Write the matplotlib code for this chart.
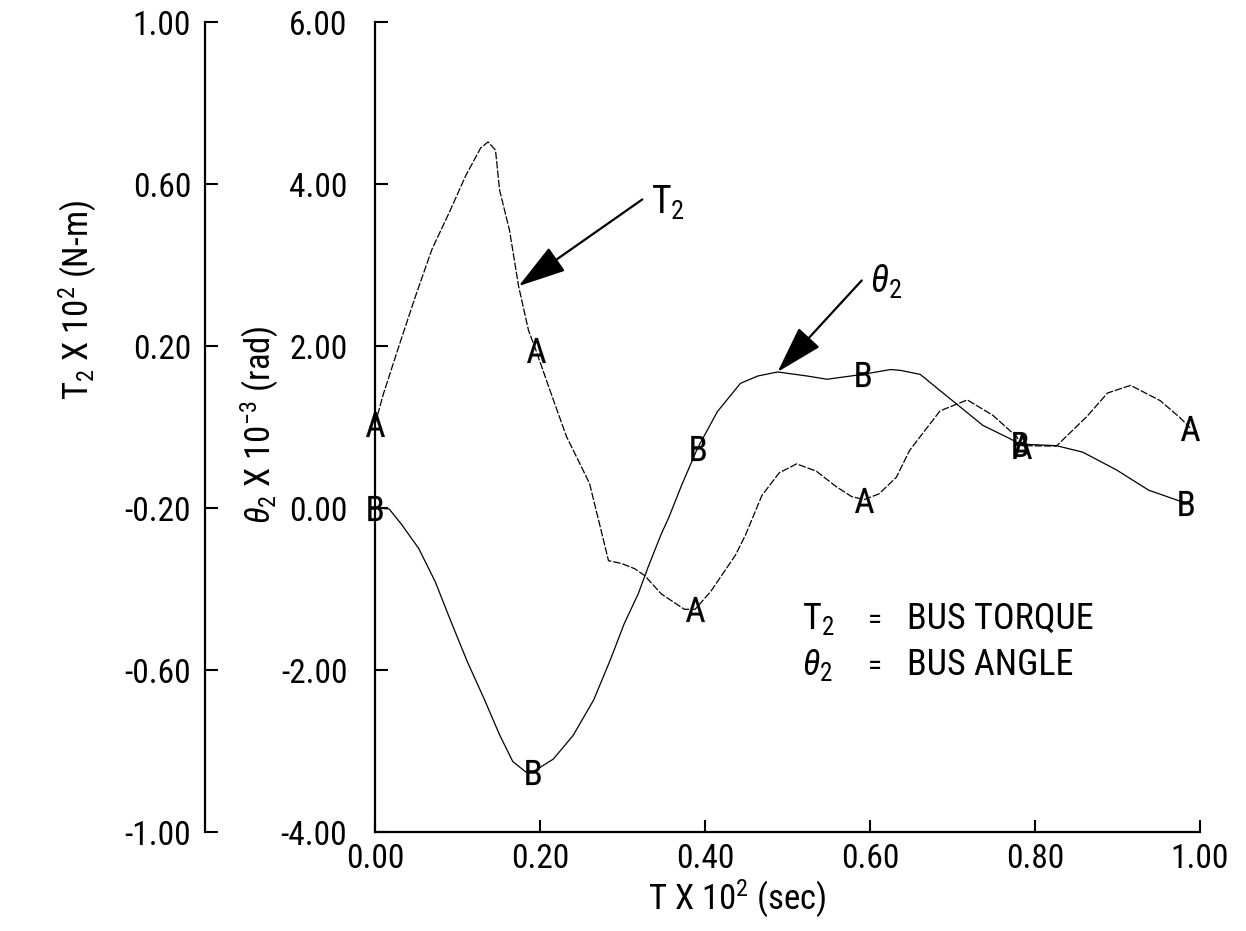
import matplotlib
matplotlib.use("Agg")
import matplotlib.pyplot as plt
from matplotlib.ticker import FormatStrFormatter

plt.rcParams['font.family'] = ['Roboto Condensed', 'Noto Sans', 'DejaVu Sans']
plt.rcParams['font.stretch'] = 'condensed'
plt.rcParams['mathtext.fontset'] = 'custom'
plt.rcParams['mathtext.rm'] = 'Roboto Condensed'
plt.rcParams['mathtext.it'] = 'Roboto Condensed:italic'
plt.rcParams['mathtext.sf'] = 'Roboto Condensed'
plt.rcParams['axes.unicode_minus'] = False

# bus angle theta_2 (x 10^-3 rad) vs time (x 10^2 sec)
theta_t = [0.0, 0.017, 0.032, 0.053, 0.073, 0.092, 0.112, 0.132, 0.151, 0.167,
           0.183, 0.191, 0.216, 0.240, 0.265, 0.285, 0.302, 0.319, 0.331, 0.347,
           0.356, 0.372, 0.391, 0.415, 0.443, 0.464, 0.488, 0.524, 0.548, 0.591,
           0.625, 0.637, 0.661, 0.685, 0.737, 0.769, 0.782, 0.826, 0.858, 0.899,
           0.938, 0.983]
theta_v = [0.00, -0.01, -0.20, -0.50, -0.91, -1.40, -1.90, -2.35, -2.80, -3.13,
           -3.26, -3.26, -3.10, -2.81, -2.37, -1.88, -1.43, -1.06, -0.73, -0.32,
           -0.12, 0.29, 0.74, 1.19, 1.54, 1.63, 1.68, 1.63, 1.59, 1.65,
           1.71, 1.70, 1.65, 1.45, 1.02, 0.86, 0.79, 0.77, 0.69, 0.47,
           0.22, 0.06]

# bus torque T_2 (x 10^2 N-m) vs time
t2_t = [0.0, 0.010, 0.028, 0.048, 0.069, 0.090, 0.110, 0.128, 0.137, 0.146,
        0.151, 0.163, 0.174, 0.186, 0.195, 0.212, 0.232, 0.260, 0.275, 0.283,
        0.299, 0.315, 0.327, 0.347, 0.375, 0.388, 0.407, 0.437, 0.449, 0.469,
        0.490, 0.511, 0.535, 0.559, 0.578, 0.593, 0.611, 0.632, 0.648, 0.660,
        0.685, 0.718, 0.749, 0.778, 0.784, 0.826, 0.863, 0.888, 0.916, 0.952,
        0.976, 0.988]
t2_v = [0.007, 0.081, 0.194, 0.317, 0.439, 0.530, 0.621, 0.689, 0.704, 0.684,
        0.585, 0.486, 0.348, 0.239, 0.190, 0.091, -0.023, -0.139, -0.263, -0.330,
        -0.337, -0.350, -0.367, -0.412, -0.450, -0.450, -0.406, -0.316, -0.267, -0.169,
        -0.113, -0.091, -0.109, -0.147, -0.172, -0.179, -0.165, -0.124, -0.058, -0.026,
        0.040, 0.067, 0.029, -0.024, -0.046, -0.047, 0.026, 0.084, 0.103, 0.065,
        0.023, -0.002]

# plotted symbols
theta_mark_t = [0.0, 0.191, 0.391, 0.591, 0.782, 0.983]
theta_mark_v = [0.00, -3.26, 0.74, 1.65, 0.79, 0.06]
t2_mark_t = [0.0, 0.195, 0.388, 0.593, 0.784, 0.988]
t2_mark_v = [0.007, 0.190, -0.450, -0.179, -0.046, -0.002]

x_ticks = [0.0, 0.2, 0.4, 0.6, 0.8, 1.0]
theta_ticks = [-4, -2, 0, 2, 4, 6]
t2_ticks = [-1.0, -0.6, -0.2, 0.2, 0.6, 1.0]

FS = 25
TICK_FS = 24

fig = plt.figure(figsize=(12.46, 9.31), dpi=100)
ax = fig.add_axes([0.301, 0.1063, 0.662, 0.870])
ax.set_xlim(0, 1)
ax.set_ylim(-4, 6)

ax2 = ax.twinx()
ax2.set_ylim(-1, 1)

for s in ['top', 'right']:
    ax.spines[s].set_visible(False)
for s in ['top', 'right', 'bottom']:
    ax2.spines[s].set_visible(False)
ax2.spines['left'].set_visible(True)
ax2.spines['left'].set_position(('axes', -0.206))
ax2.yaxis.tick_left()

for sp in [ax.spines['left'], ax.spines['bottom'], ax2.spines['left']]:
    sp.set_linewidth(1.6)

ax.set_xticks(x_ticks)
ax.set_yticks(theta_ticks)
ax2.set_yticks(t2_ticks)
ax.xaxis.set_major_formatter(FormatStrFormatter('%.2f'))
ax.yaxis.set_major_formatter(FormatStrFormatter('%.2f'))
ax2.yaxis.set_major_formatter(FormatStrFormatter('%.2f'))

ax.tick_params(axis='both', direction='in', length=9, width=1.5, labelsize=TICK_FS)
ax.tick_params(axis='y', pad=20)
ax.tick_params(axis='x', pad=8)
ax2.tick_params(axis='y', direction='in', length=9, width=1.5, labelsize=TICK_FS, pad=10,
                left=True, right=False, labelleft=True, labelright=False)

# curves
ax.plot(theta_t, theta_v, color='black', lw=0.9)
ax2.plot(t2_t, t2_v, color='black', lw=0.9, ls=(0, (6, 1.5)))
ax.plot(theta_mark_t, theta_mark_v, ls='none', marker='$\\mathsf{B}$', ms=18,
        mec='black', mfc='black', mew=0.1, clip_on=False)
ax2.plot(t2_mark_t, t2_mark_v, ls='none', marker='$\\mathsf{A}$', ms=18,
         mec='black', mfc='black', mew=0.1, clip_on=False)

# arrows and curve labels
arrow = dict(arrowstyle='-|>,head_length=1.5,head_width=0.45', color='black',
             lw=1.6, mutation_scale=20, shrinkA=0, shrinkB=0)
ax.annotate('', xy=(0.174, 2.74), xytext=(0.324, 3.81), arrowprops=arrow)
ax.text(0.334, 3.77, 'T$_2$', fontsize=FS + 2, ha='left', va='center')
ax.annotate('', xy=(0.488, 1.68), xytext=(0.590, 2.81), arrowprops=arrow)
ax.text(0.600, 2.79, '$\\theta_2$', fontsize=FS + 2, ha='left', va='center')

# key
ax.text(0.518, -1.49, 'T$_2$', fontsize=FS + 1, ha='left', va='baseline')
ax.text(0.606, -1.49, '=', fontsize=FS - 4, ha='center', va='baseline')
ax.text(0.645, -1.49, 'BUS TORQUE', fontsize=FS + 1, ha='left', va='baseline')
ax.text(0.518, -2.06, '$\\theta_2$', fontsize=FS + 1, ha='left', va='baseline')
ax.text(0.606, -2.06, '=', fontsize=FS - 4, ha='center', va='baseline')
ax.text(0.645, -2.06, 'BUS ANGLE', fontsize=FS + 1, ha='left', va='baseline')

# axis titles
fig.text(0.0626, 0.678, 'T$_2$ X 10$^2$ (N-m)', rotation=90, fontsize=FS,
         ha='center', va='center')
fig.text(0.209, 0.5435, '$\\theta_2$ X 10$^{-3}$ (rad)', rotation=90, fontsize=FS,
         ha='center', va='center')
fig.text(0.592, 0.034, 'T X 10$^2$ (sec)', fontsize=FS, ha='center', va='center')

fig.savefig('out.png', dpi=100, facecolor='white')
